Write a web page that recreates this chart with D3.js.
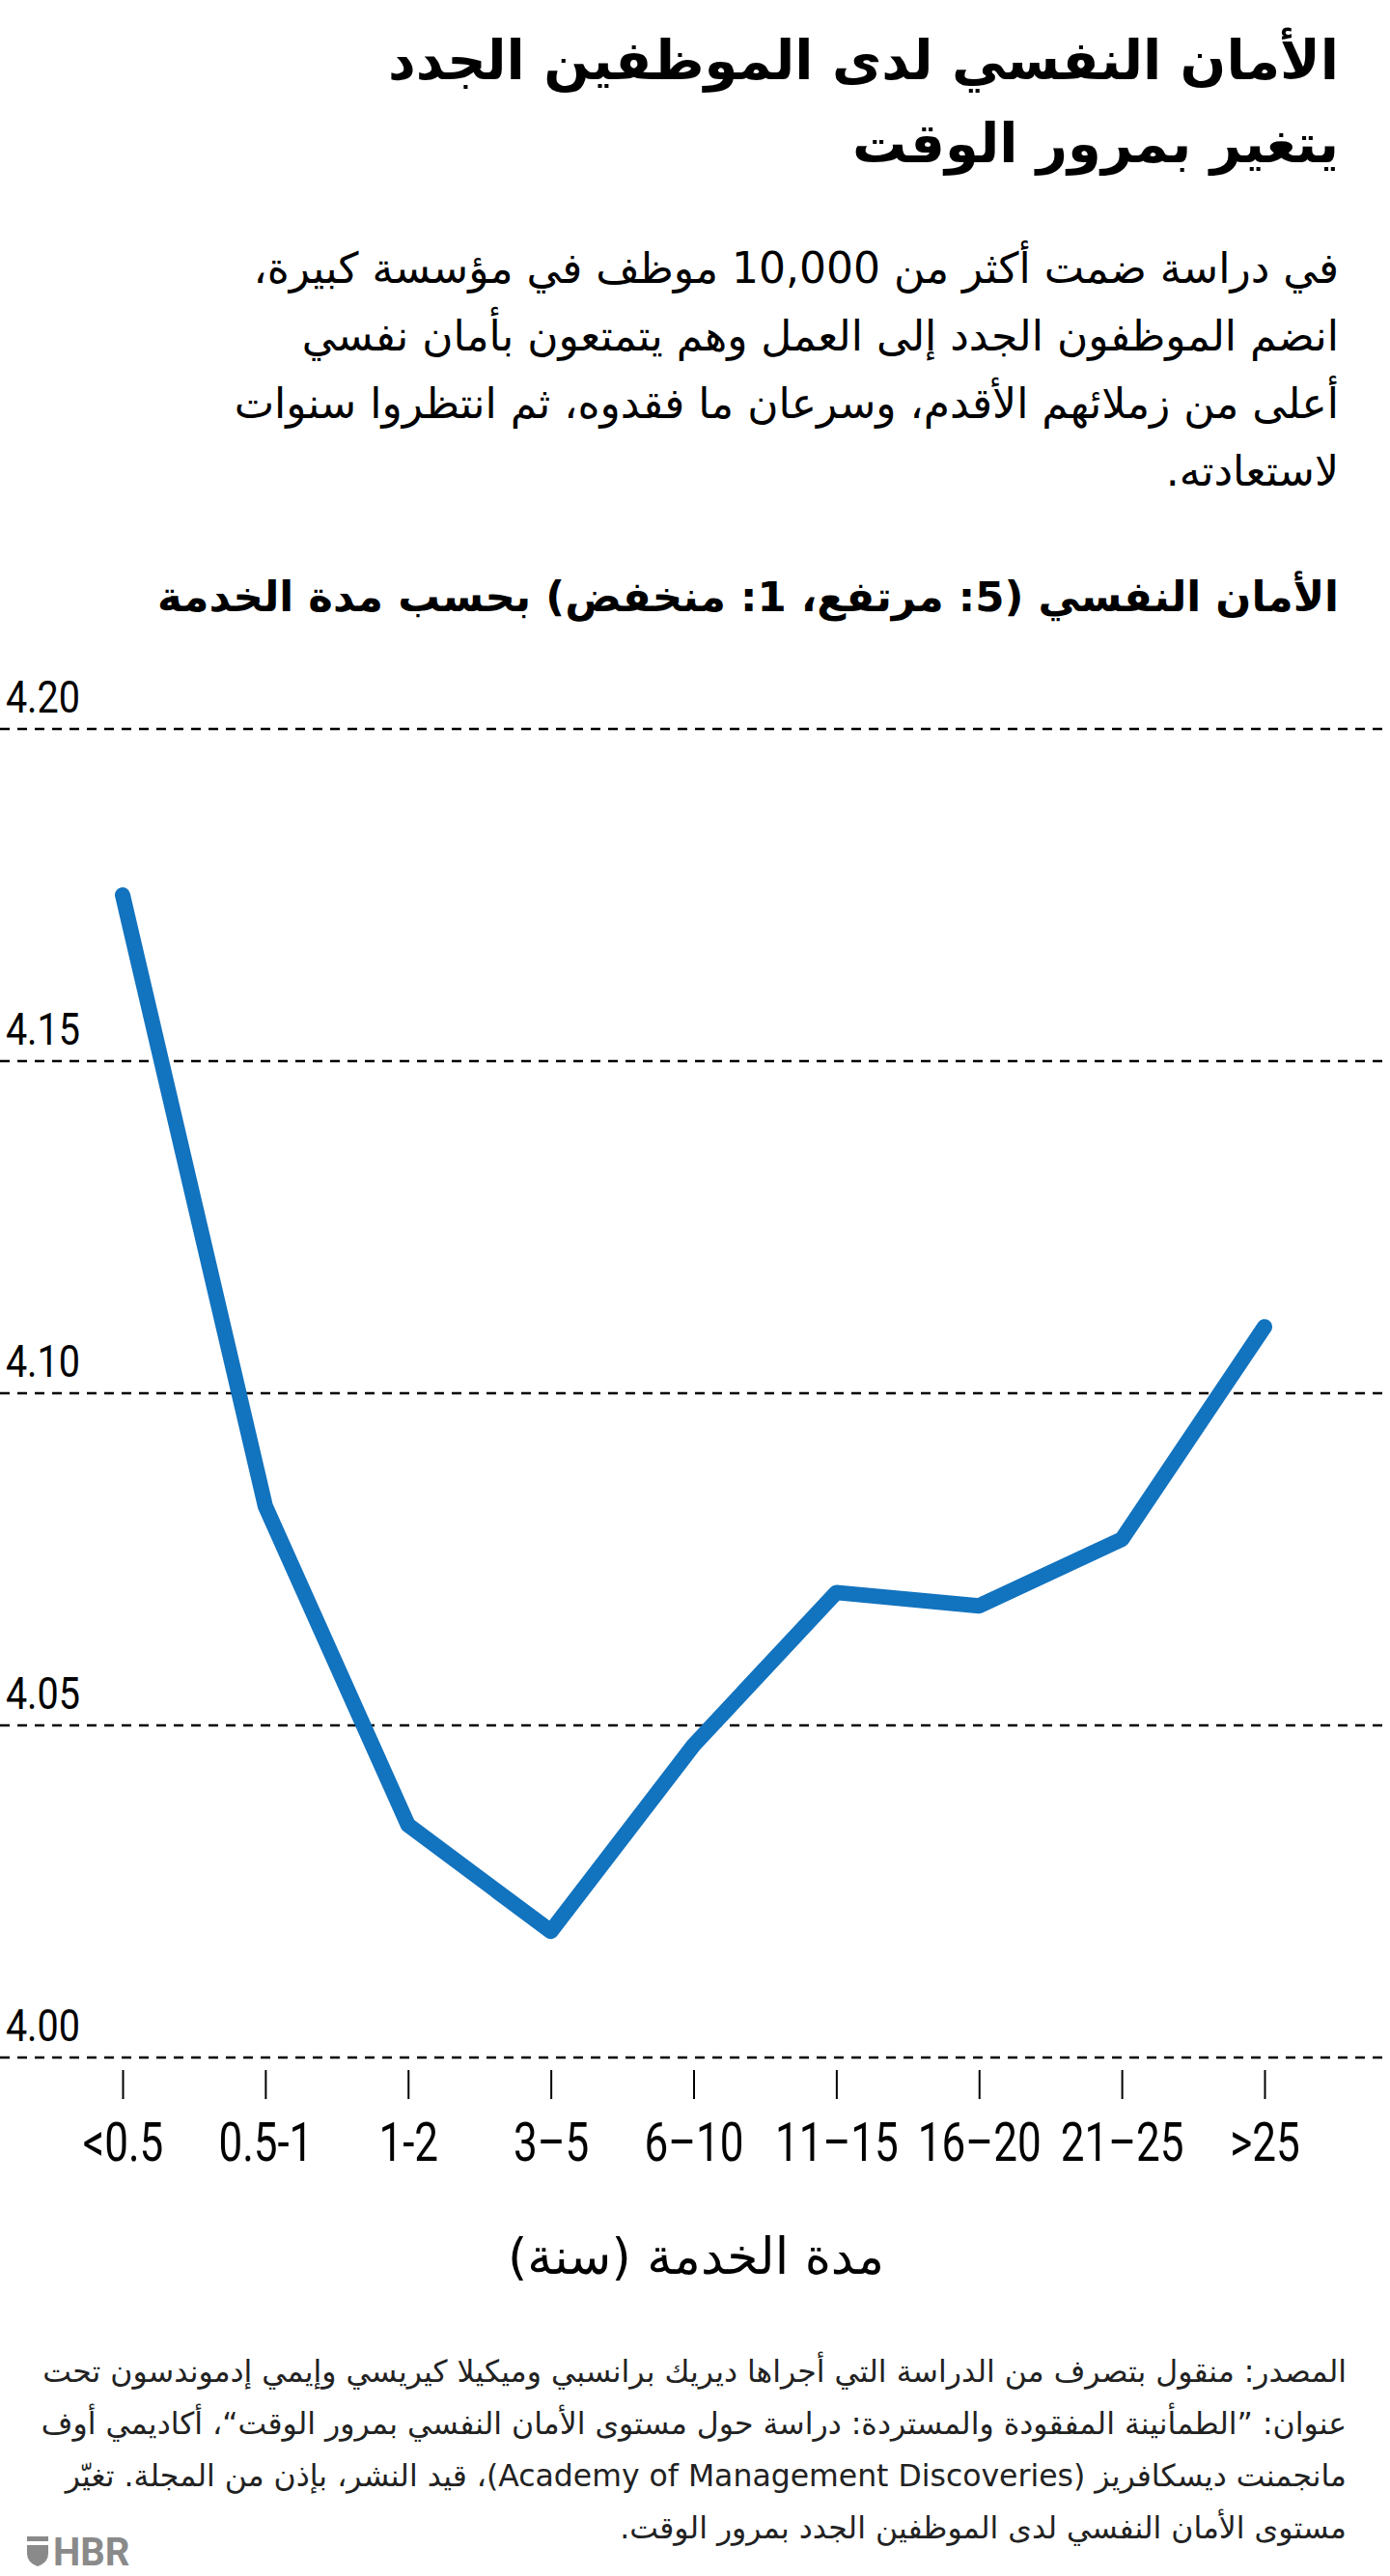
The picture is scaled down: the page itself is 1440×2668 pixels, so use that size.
<!DOCTYPE html>
<html>
<head>
<meta charset="utf-8">
<script src="https://cdn.jsdelivr.net/npm/d3@7"></script>
<style>
  body { margin: 0; background: #fff; }
  svg text { font-family: "DejaVu Sans", sans-serif; }
  svg text.num { font-family: Roboto, "Liberation Sans", sans-serif; }
</style>
</head>
<body>
<div id="chart"></div>
<script>
// tenure categories and psychological safety score
var categories = ["<0.5", "0.5-1", "1-2", "3–5", "6–10", "11–15", "16–20", "21–25", ">25"];
var values = [4.175, 4.083, 4.035, 4.019, 4.047, 4.070, 4.068, 4.078, 4.110];
var yTicks = [4.00, 4.05, 4.10, 4.15, 4.20];

var titleLines = ["الأمان النفسي لدى الموظفين الجدد", "يتغير بمرور الوقت"];
var subLines = [
  "في دراسة ضمت أكثر من 10,000 موظف في مؤسسة كبيرة،",
  "انضم الموظفون الجدد إلى العمل وهم يتمتعون بأمان نفسي",
  "أعلى من زملائهم الأقدم، وسرعان ما فقدوه، ثم انتظروا سنوات",
  "لاستعادته."
];
var yLabel = "الأمان النفسي (5: مرتفع، 1: منخفض) بحسب مدة الخدمة";
var xLabel = "مدة الخدمة (سنة)";
var sourceLines = [
  "المصدر: منقول بتصرف من الدراسة التي أجراها ديريك برانسبي وميكيلا كيريسي وإيمي إدموندسون تحت",
  "عنوان: ”الطمأنينة المفقودة والمستردة: دراسة حول مستوى الأمان النفسي بمرور الوقت“، أكاديمي أوف",
  "مانجمنت ديسكافريز (Academy of Management Discoveries)، قيد النشر، بإذن من المجلة. تغيّر",
  "مستوى الأمان النفسي لدى الموظفين الجدد بمرور الوقت."
];

var width = 1440, height = 2668;
var right = 1387;

var svg = d3.select("#chart").append("svg")
  .attr("width", width)
  .attr("height", height);

// headline
svg.selectAll("text.title").data(titleLines).enter().append("text")
  .attr("class", "title")
  .attr("x", right).attr("y", (d, i) => 82 + i * 86)
  .attr("direction", "rtl").attr("text-anchor", "start")
  .style("font-size", "56px").style("font-weight", "bold")
  .text(d => d);

svg.selectAll("text.sub").data(subLines).enter().append("text")
  .attr("class", "sub")
  .attr("x", right).attr("y", (d, i) => 293 + i * 70)
  .attr("direction", "rtl").attr("text-anchor", "start")
  .style("font-size", "44px")
  .text(d => d);

svg.append("text")
  .attr("x", right).attr("y", 633)
  .attr("direction", "rtl").attr("text-anchor", "start")
  .style("font-size", "43.5px").style("font-weight", "bold")
  .text(yLabel);

var x = d3.scalePoint().domain(categories).range([127, 1310]);
var y = d3.scaleLinear().domain([4.0, 4.2]).range([2131, 755]);

// gridlines
var grid = svg.append("g");
grid.selectAll("line").data(yTicks).enter().append("line")
  .attr("x1", 0).attr("x2", width)
  .attr("y1", d => y(d)).attr("y2", d => y(d))
  .attr("stroke", "#000").attr("stroke-width", 2.5)
  .attr("stroke-dasharray", "10,8");
grid.selectAll("g.lbl").data(yTicks).enter().append("g")
  .attr("class", "lbl")
  .attr("transform", d => "translate(83," + (y(d) - 17) + ")")
  .append("text")
  .attr("class", "num")
  .attr("transform", "scale(0.86,1)")
  .attr("text-anchor", "end")
  .style("font-size", "46px")
  .text(d => d3.format(".2f")(d));

// x axis
var xAxis = svg.append("g")
  .attr("transform", "translate(0,2144)")
  .call(d3.axisBottom(x).tickSize(30).tickPadding(0));
xAxis.select(".domain").remove();
xAxis.selectAll(".tick line").attr("stroke", "#000").attr("stroke-width", 2);
xAxis.selectAll(".tick text")
  .attr("class", "num")
  .attr("y", 94).attr("dy", 0)
  .attr("transform", "scale(0.8,1)")
  .attr("fill", "#000")
  .style("font-size", "55px");

svg.append("text")
  .attr("x", 721).attr("y", 2355)
  .attr("text-anchor", "middle")
  .style("font-size", "52px")
  .text(xLabel);

// the line
var line = d3.line()
  .x((d, i) => x(categories[i]))
  .y(d => y(d));

svg.append("path")
  .datum(values)
  .attr("d", line)
  .attr("fill", "none")
  .attr("stroke", "#1273bf")
  .attr("stroke-width", 16)
  .attr("stroke-linecap", "round")
  .attr("stroke-linejoin", "round");

// source
svg.selectAll("text.src").data(sourceLines).enter().append("text")
  .attr("class", "src")
  .attr("x", 1395).attr("y", (d, i) => 2467 + i * 54)
  .attr("direction", "rtl").attr("text-anchor", "start")
  .attr("fill", "#222")
  .style("font-size", "31.5px")
  .text(d => d);

// HBR mark
var logo = svg.append("g").attr("transform", "translate(28,2627)").attr("fill", "#8a8a8a");
logo.append("rect").attr("x", 0).attr("y", 0).attr("width", 22).attr("height", 5);
logo.append("path").attr("d", "M0,9 L22,9 L22,18 Q22,27 11,31 Q0,27 0,18 Z");
logo.append("text").attr("x", 27).attr("y", 30)
  .style("font-family", "Roboto, sans-serif")
  .style("font-size", "40px").style("font-weight", "bold")
  .text("HBR");
</script>
</body>
</html>
